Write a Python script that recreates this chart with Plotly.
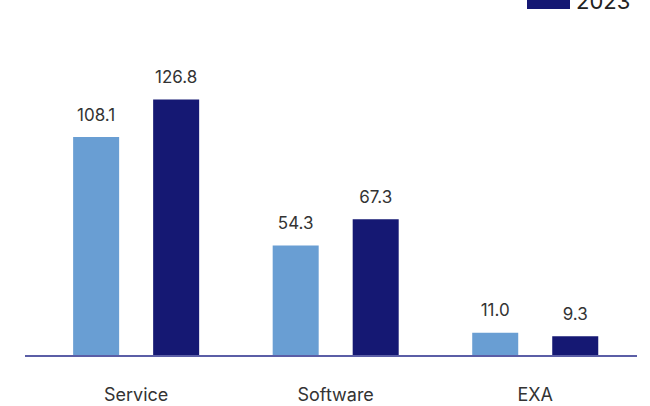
import plotly.graph_objects as go

categories = ["Service", "Software", "EXA"]
years = ["2022", "2023"]
values_2022 = [108.1, 54.3, 11.0]
values_2023 = [126.8, 67.3, 9.3]
title_text = "(in € million)"

colors = {"2022": "#699ed3", "2023": "#151873"}
series = {"2022": values_2022, "2023": values_2023}

fig = go.Figure()
for yr in years:
    fig.add_trace(go.Bar(
        x=categories, y=series[yr], name=yr,
        marker=dict(color=colors[yr], line=dict(width=0)),
        offsetgroup=yr, alignmentgroup="g",
        showlegend=False, hoverinfo="skip",
    ))
for yr in years:
    fig.add_trace(go.Scatter(
        x=categories, y=series[yr], mode="markers+text",
        text=[f"{v:.1f}" for v in series[yr]],
        textposition="top center",
        textfont=dict(family="Inter", size=17, color="#333333"),
        marker=dict(size=18, opacity=0),
        offsetgroup=yr, alignmentgroup="g",
        showlegend=False, hoverinfo="skip", cliponaxis=False,
    ))

PLOT_L, PLOT_R, PLOT_T, PLOT_B = 25, 637, 30, 355
plot_w = PLOT_R - PLOT_L
plot_h = PLOT_B - PLOT_T

def px(sx):
    return (sx - PLOT_L) / plot_w

def py(sy):
    return (PLOT_B - sy) / plot_h

# manual legend (the 2022 row lies above the visible area, as in the reference)
legend_rows = {"2022": -26, "2023": 1}
for yr in years:
    yc = legend_rows[yr]
    fig.add_shape(type="rect", xref="paper", yref="paper",
                  x0=px(527), x1=px(570), y0=py(yc + 8), y1=py(yc - 3),
                  fillcolor=colors[yr], line=dict(width=0))
    fig.add_annotation(xref="paper", yref="paper", x=px(574), y=py(yc),
                       text=yr, showarrow=False, xanchor="left", yanchor="middle",
                       font=dict(family="Inter", size=22, color="#222222"))

fig.add_annotation(xref="paper", yref="paper", x=px(19), y=py(-9),
                   text=title_text, showarrow=False, xanchor="left", yanchor="middle",
                   font=dict(family="Inter", size=13, color="#8a8fd0"))

fig.update_layout(
    width=650, height=406,
    margin=dict(l=PLOT_L, r=650 - PLOT_R, t=PLOT_T, b=406 - PLOT_B),
    paper_bgcolor="white", plot_bgcolor="white",
    barmode="group", bargap=0.198, bargroupgap=0.425,
    scattermode="group", scattergap=0.198,
    xaxis=dict(range=[-0.557, 2.51], showgrid=False, zeroline=False,
               showline=True, linecolor="#5b5ea6", linewidth=2,
               ticks="", ticklabelstandoff=22, automargin=False,
               tickfont=dict(family="Inter", size=18, color="#333333")),
    yaxis=dict(range=[0, plot_h / 2.0155], visible=False, showgrid=False,
               zeroline=False, automargin=False),
)

fig.write_html("out.html", config={"displayModeBar": False},
               post_script="document.body.style.margin='0';")
